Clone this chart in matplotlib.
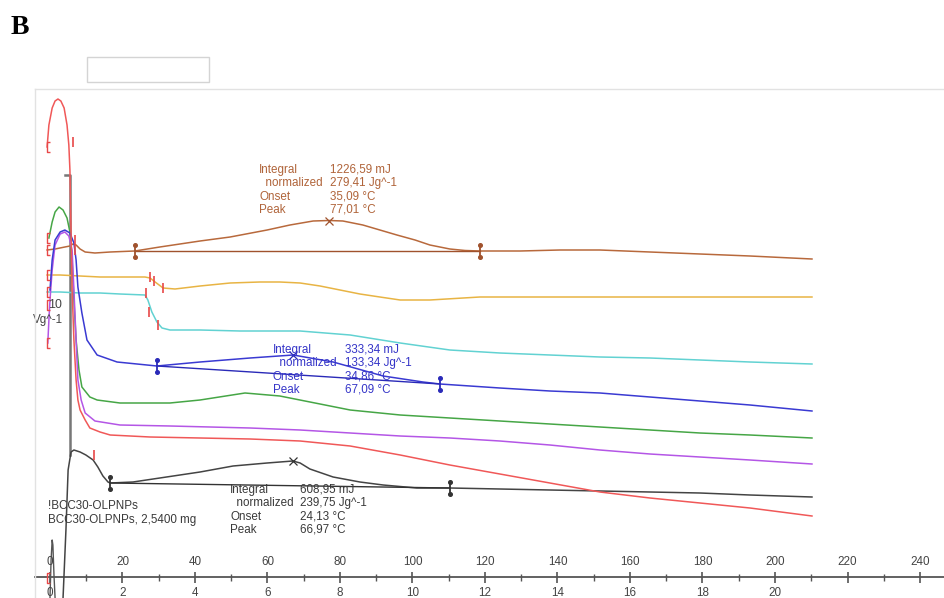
import numpy as np
import matplotlib
matplotlib.use("Agg")
import matplotlib.pyplot as plt
from matplotlib.path import Path
from matplotlib.lines import Line2D
from matplotlib.patches import Rectangle

# ---------------- DSC curves (temperature in degC, heat flow in arbitrary stacked units) ----------------
red_T = [-0.8, -0.3, 0.6, 1.4, 2.2, 3.0, 3.9, 4.7, 5.2, 5.5, 5.8, 6.1, 6.6, 7.2, 7.7, 8.3, 9.7, 11.0,
         13.8, 16.6, 27.6, 41.4, 55.2, 69.0, 82.8, 96.6, 110.3, 124.1, 137.9, 151.7, 165.5, 179.3, 193.1, 210.2]
red_hf = [41.9, 44.1, 45.8, 46.5, 46.7, 46.5, 45.8, 44.1, 42.1, 39.6, 33.6, 27.6, 22.6, 18.6, 16.6, 15.6, 14.6, 13.8,
          13.4, 13.1, 12.9, 12.8, 12.7, 12.5, 12.0, 11.1, 10.1, 9.2, 8.3, 7.4, 6.8, 6.3, 5.8, 5.0]

brown_T = [-0.8, 1.4, 4.1, 5.5, 6.3, 7.2, 8.3, 9.7, 12.4, 16.6, 23.4, 30.3, 41.4, 49.7, 59.9, 66.2, 72.6, 77.0,
           80.8, 86.3, 91.0, 95.7, 100.7, 104.8, 110.3, 114.5, 118.6, 129.7, 140.7, 151.7, 165.5, 179.3, 193.1, 210.2]
brown_hf = [31.6, 31.7, 31.9, 32.0, 32.2, 32.1, 31.7, 31.4, 31.3, 31.4, 31.5, 31.9, 32.5, 32.9, 33.6, 34.1, 34.5, 34.55,
            34.5, 34.1, 33.6, 33.1, 32.6, 32.1, 31.7, 31.55, 31.5, 31.5, 31.6, 31.6, 31.4, 31.2, 31.0, 30.7]

orange_T = [-0.8, 2.8, 8.3, 13.8, 19.3, 26.2, 27.6, 29.0, 31.2, 34.5, 41.4, 49.7, 57.9, 63.4, 69.0, 74.5, 80.0,
            85.5, 91.0, 96.6, 104.8, 118.6, 137.9, 151.7, 179.3, 210.2]
orange_hf = [29.1, 29.1, 29.0, 28.9, 28.9, 28.9, 28.8, 28.4, 27.8, 27.7, 28.0, 28.3, 28.4, 28.4, 28.3, 28.0, 27.6,
             27.2, 26.9, 26.6, 26.6, 26.9, 26.9, 26.9, 26.9, 26.9]

cyan_T = [-0.8, 2.8, 8.3, 13.8, 19.3, 26.2, 27.0, 28.1, 29.5, 30.9, 33.1, 41.4, 52.4, 69.0, 82.8, 96.6, 110.3,
          124.1, 137.9, 151.7, 165.5, 179.3, 193.1, 210.2]
cyan_hf = [27.4, 27.4, 27.3, 27.3, 27.2, 27.1, 26.6, 25.4, 24.4, 23.8, 23.6, 23.6, 23.5, 23.5, 23.1, 22.3, 21.6,
           21.3, 21.1, 20.9, 20.8, 20.6, 20.4, 20.2]

blue_T = [0.0, 0.6, 1.4, 2.8, 4.1, 5.5, 6.6, 7.2, 7.7, 8.8, 10.2, 13.0, 18.5, 29.5, 41.4, 55.2, 67.1, 78.1,
          91.9, 102.9, 107.6, 124.1, 137.9, 151.7, 165.5, 179.3, 193.1, 210.2]
blue_hf = [27.6, 30.6, 32.6, 33.4, 33.6, 33.3, 32.3, 30.6, 27.9, 25.3, 22.6, 21.1, 20.4, 20.0, 20.4, 20.8, 21.1, 20.4,
           19.0, 18.4, 18.2, 17.8, 17.5, 17.3, 16.9, 16.5, 16.1, 15.5]

green_T = [-0.3, 0.6, 1.4, 2.5, 3.6, 4.7, 5.5, 6.1, 6.6, 7.2, 8.0, 8.8, 11.0, 13.0, 19.3, 33.1, 41.4, 53.8,
           63.4, 74.5, 82.8, 96.6, 110.3, 124.1, 137.9, 151.7, 165.5, 179.3, 193.1, 210.2]
green_hf = [32.8, 34.4, 35.4, 35.9, 35.6, 34.8, 33.4, 30.6, 26.6, 22.6, 19.6, 17.9, 16.9, 16.6, 16.3, 16.3, 16.6, 17.3,
            17.0, 16.2, 15.6, 15.1, 14.8, 14.5, 14.2, 13.9, 13.6, 13.3, 13.1, 12.8]

purple_T = [-0.6, -0.3, 0.0, 0.6, 1.4, 2.8, 4.1, 5.2, 6.1, 6.6, 7.2, 7.7, 8.6, 9.7, 12.4, 19.3, 33.1, 55.2,
            69.0, 82.8, 96.6, 110.3, 124.1, 137.9, 151.7, 165.5, 179.3, 193.1, 210.2]
purple_hf = [22.3, 24.6, 26.6, 29.6, 32.1, 33.2, 33.4, 33.0, 31.6, 27.6, 22.6, 18.6, 16.6, 15.3, 14.5, 14.1, 14.0, 13.8,
             13.6, 13.3, 13.0, 12.8, 12.5, 12.1, 11.6, 11.2, 10.9, 10.6, 10.2]

black_T = [3.6, 4.4, 5.0, 5.8, 6.6, 8.3, 9.9, 11.9, 13.2, 14.6, 16.0, 16.6, 22.9, 30.3, 41.4, 50.5, 59.9, 67.0,
           69.0, 71.7, 78.1, 85.5, 91.9, 101.2, 110.3, 124.1, 137.9, 151.7, 165.5, 179.3, 193.1, 210.2]
black_hf = [-3.2, 3.6, 9.6, 11.4, 11.6, 11.4, 11.1, 10.6, 9.9, 9.0, 8.4, 8.3, 8.4, 8.8, 9.4, 10.0, 10.3, 10.5,
            10.3, 9.7, 8.9, 8.4, 8.1, 7.8, 7.8, 7.7, 7.6, 7.5, 7.4, 7.3, 7.1, 6.9]

# start-up transient of the reference trace and the small signal blip at 0 degC
transient_T = [4.1, 5.5, 5.5]
transient_hf = [39.1, 39.1, 11.1]
blip_T = [0.0, 0.3, 0.6, 0.8, 1.1, 1.4]
blip_hf = [-3.2, 0.6, 2.6, 2.1, -0.9, -3.2]

# ---------------- peak evaluations ----------------
brown_limits = [23.4, 118.6]
blue_limits = [29.5, 107.6]
black_limits = [16.6, 110.3]
brown_result = ["1226,59 mJ", "279,41 Jg^-1", "35,09 °C", "77,01 °C"]
blue_result = ["333,34 mJ", "133,34 Jg^-1", "34,86 °C", "67,09 °C"]
black_result = ["608,95 mJ", "239,75 Jg^-1", "24,13 °C", "66,97 °C"]
brown_peak = 77.01
blue_peak = 67.09
black_peak = 66.97
result_labels = ["Integral", "  normalized", "Onset", "Peak"]

# evaluation range markers (degC, heat flow)
range_start_T = [-0.8, -0.8, -0.8, -0.8, -0.8, -0.8, -0.8, -0.8]
range_start_hf = [41.9, 32.8, 31.6, 29.1, 27.4, 26.1, 22.3, -1.2]
range_tick_T = [6.3, 6.9, 6.9, 12.1, 27.6, 28.7, 31.2, 26.5, 27.3, 29.8]
range_tick_hf = [42.4, 32.6, 31.6, 11.1, 28.9, 28.5, 27.8, 27.3, 25.4, 24.1]

# ---------------- axis ticks ----------------
temp_ticks = list(range(0, 241, 20))
temp_minor = list(range(10, 240, 20))
time_ticks = list(range(0, 21, 2))
heating_rate = 10  # K/min

sample_lines = ["!BCC30-OLPNPs", "BCC30-OLPNPs, 2,5400 mg"]

# ---------------- drawing ----------------
W, H = 944, 598
fig = plt.figure(figsize=(W / 100, H / 100), dpi=100)
fig.patch.set_facecolor("white")
ax = fig.add_axes([0, 0, 1, 1])
ax.set_xlim(-13.79, 246.62)
ax.set_ylim(-3.2, 56.6)
ax.axis("off")

FONT = "Liberation Sans"
TXT = 8.4

C_RED = "#f05858"
C_BROWN = "#b8693c"
C_ORANGE = "#e8b444"
C_CYAN = "#62d2d2"
C_BLUE = "#3a3ad2"
C_GREEN = "#46a646"
C_PURPLE = "#b456e6"
C_BLACK = "#444444"
C_MARK = "#e84848"

lw = 1.1
ax.plot(transient_T, transient_hf, color="#777777", lw=1.8, zorder=2)
ax.plot(blip_T, blip_hf, color="#555555", lw=1.0, zorder=2)
for T, hf, c in [(orange_T, orange_hf, C_ORANGE), (cyan_T, cyan_hf, C_CYAN),
                 (brown_T, brown_hf, C_BROWN), (green_T, green_hf, C_GREEN),
                 (purple_T, purple_hf, C_PURPLE), (blue_T, blue_hf, C_BLUE),
                 (black_T, black_hf, C_BLACK), (red_T, red_hf, C_RED)]:
    ax.plot(T, hf, color=c, lw=lw, solid_joinstyle="round", zorder=3)

# integration baselines, limit markers and peak crosses
for T, hf, lim, pk, c in [(brown_T, brown_hf, brown_limits, brown_peak, "#a0522d"),
                          (blue_T, blue_hf, blue_limits, blue_peak, "#2a2ab8"),
                          (black_T, black_hf, black_limits, black_peak, "#333333")]:
    yb = np.interp(lim, T, hf)
    ax.plot(lim, yb, color=c, lw=1.0, zorder=3)
    ax.vlines(lim, yb - 0.6, yb + 0.6, color=c, lw=1.3, zorder=4)
    ax.plot(lim, yb - 0.6, ls="none", marker="o", ms=2.6, color=c, zorder=4)
    ax.plot(lim, yb + 0.6, ls="none", marker="o", ms=2.6, color=c, zorder=4)
    ax.plot([pk], [np.interp(pk, T, hf)], ls="none", marker="x", ms=6, mew=0.9, color=c, zorder=4)

bracket = Path([(0.35, 0.5), (0, 0.5), (0, -0.5), (0.35, -0.5)],
               [Path.MOVETO, Path.LINETO, Path.LINETO, Path.LINETO])
ax.plot(range_start_T, range_start_hf, ls="none", marker=bracket, ms=7, mew=1.0,
        mfc="none", mec=C_MARK, zorder=5)
ax.plot(range_tick_T, range_tick_hf, ls="none", marker="|", ms=7, mew=1.2, color=C_MARK, zorder=5)

# result tables
def result_block(x_lab, x_val, y0, values, color):
    for i, (lab, val) in enumerate(zip(result_labels, values)):
        y = y0 - 1.33 * i
        ax.text(x_lab, y, lab, color=color, fontsize=TXT, family=FONT, va="center", ha="left", zorder=6)
        ax.text(x_val, y, val, color=color, fontsize=TXT, family=FONT, va="center", ha="left", zorder=6)

result_block(57.7, 77.2, 39.6, brown_result, "#b0643a")
result_block(61.5, 81.4, 21.6, blue_result, "#3535c8")
result_block(49.7, 69.0, 7.6, black_result, "#3a3a3a")

for i, s in enumerate(sample_lines):
    ax.text(-0.6, 6.0 - 1.4 * i, s, color="#3a3a3a", fontsize=TXT, family=FONT, va="center", ha="left")

# heat-flow scale label
ax.text(-0.5, 26.1, "10", color="#444444", fontsize=TXT + 0.5, family=FONT, va="center", ha="left", zorder=6)
ax.text(-4.7, 24.6, "Vg^-1", color="#444444", fontsize=TXT, family=FONT, va="center", ha="left", zorder=6)

# temperature / time axis
axis_y = -1.1
ax.plot([-4.14, 246.62], [axis_y, axis_y], color="#555555", lw=1.3, zorder=2)
ax.vlines(temp_ticks, axis_y - 0.55, axis_y + 0.55, color="#555555", lw=1.2)
ax.vlines(temp_minor, axis_y - 0.35, axis_y + 0.35, color="#555555", lw=1.0)
for t in temp_ticks:
    ax.text(t, 0.4, str(t), ha="center", va="center", fontsize=TXT, family=FONT, color="#444444")
for m in time_ticks:
    ax.text(m * heating_rate, -2.7, str(m), ha="center", va="center", fontsize=TXT, family=FONT,
            color="#444444")

# window frame and empty header box
fig.add_artist(Line2D([35 / W, 35 / W], [0, (H - 89) / H], color="#e2e2e2", lw=1.0))
fig.add_artist(Line2D([35 / W, 1], [(H - 89) / H] * 2, color="#e2e2e2", lw=1.0))
fig.add_artist(Rectangle((87 / W, (H - 82) / H), 122 / W, 25 / H, transform=fig.transFigure,
                         facecolor="white", edgecolor="#d4d4d4", lw=1.0))

fig.text(11 / W, 1 - 27 / H, "B", family="Liberation Serif", fontweight="bold", fontsize=20,
         va="center", ha="left", color="black")

fig.savefig("out.png", dpi=100, facecolor="white")
